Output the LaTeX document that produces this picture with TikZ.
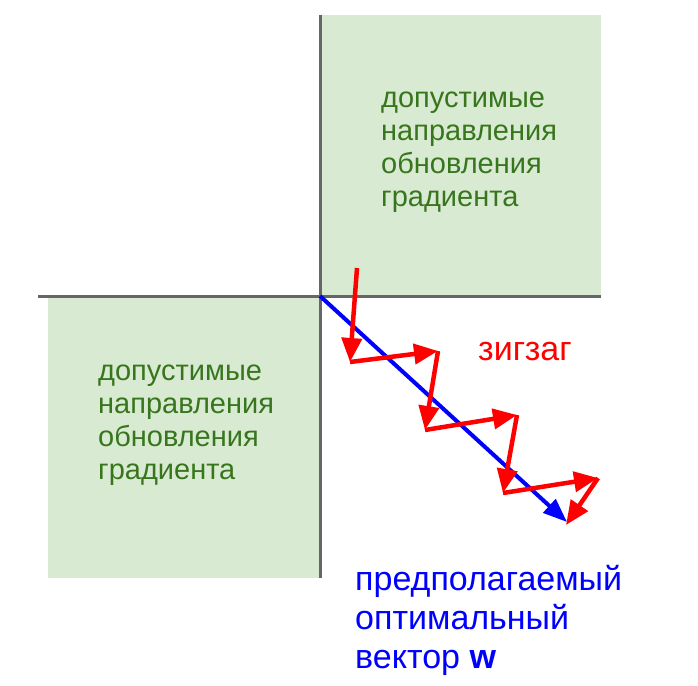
\documentclass[tikz,border=0pt]{standalone}
\usepackage{fontspec}
\setmainfont{Liberation Sans}
\usetikzlibrary{arrows.meta}
\definecolor{regionfill}{HTML}{D9EAD3}
\definecolor{regiontext}{HTML}{38761D}
\definecolor{axisgray}{HTML}{666666}
\tikzset{
  region/.style={fill=regionfill, draw=none},
  regionlabel/.style={text=regiontext, align=left, anchor=north west, inner sep=0pt, font=\fontsize{29}{33}\selectfont},
  axisline/.style={draw=axisgray, line width=3pt},
  zigstep/.style={draw=red, line width=4.5pt, -{Triangle[length=24pt,width=20pt]}},
  optvec/.style={draw=blue, line width=4pt, -{Triangle[length=24pt,width=18pt]}}
}
\begin{document}
\begin{tikzpicture}[x=1pt,y=-1pt]
            \useasboundingbox (0,0) rectangle (698,685);
            % allowed regions
            \fill[region] (320,15) rectangle (601,296);
            \fill[region] (48,296) rectangle (320,578);
            \node[regionlabel] (labelup) at (381,92) {допустимые\\направления\\обновления\\градиента};
            \node[regionlabel] (labeldown) at (98,365) {допустимые\\направления\\обновления\\градиента};
            % axes
            \coordinate (origin) at (320,296);
            \coordinate (xleft) at (38,296);
            \coordinate (xright) at (601,296);
            \coordinate (ytop) at (320,15);
            \coordinate (ybottom) at (320,578);
            \draw[axisline] (xleft) -- (xright);
            \draw[axisline] (ytop) -- (ybottom);
            % optimal vector
            \coordinate (wtip) at (567,522);
            \draw[optvec] (origin) -- (wtip);
            % zigzag
            \coordinate (z0) at (357,268);
            \coordinate (z1) at (350,362);
            \coordinate (z2) at (438,351);
            \coordinate (z3) at (425,430);
            \coordinate (z4) at (517,415);
            \coordinate (z5) at (503,493);
            \coordinate (z6) at (598,478);
            \coordinate (z7) at (566,525);
            \draw[zigstep] (z0) -- (z1);
            \draw[zigstep] (z1) -- (z2);
            \draw[zigstep] (z2) -- (z3);
            \draw[zigstep] (z3) -- (z4);
            \draw[zigstep] (z4) -- (z5);
            \draw[zigstep] (z5) -- (z6);
            \draw[zigstep] (z6) -- (z7);
            \node[text=red, anchor=north west, inner sep=0pt, font=\fontsize{34}{39}\selectfont] (ziglabel) at (478,342) {зигзаг};
            \node[text=blue, align=left, anchor=north west, inner sep=0pt, font=\fontsize{34}{39}\selectfont] (wlabel) at (355,565) {предполагаемый\\оптимальный\\вектор \textbf{w}};
\end{tikzpicture}
\end{document}
